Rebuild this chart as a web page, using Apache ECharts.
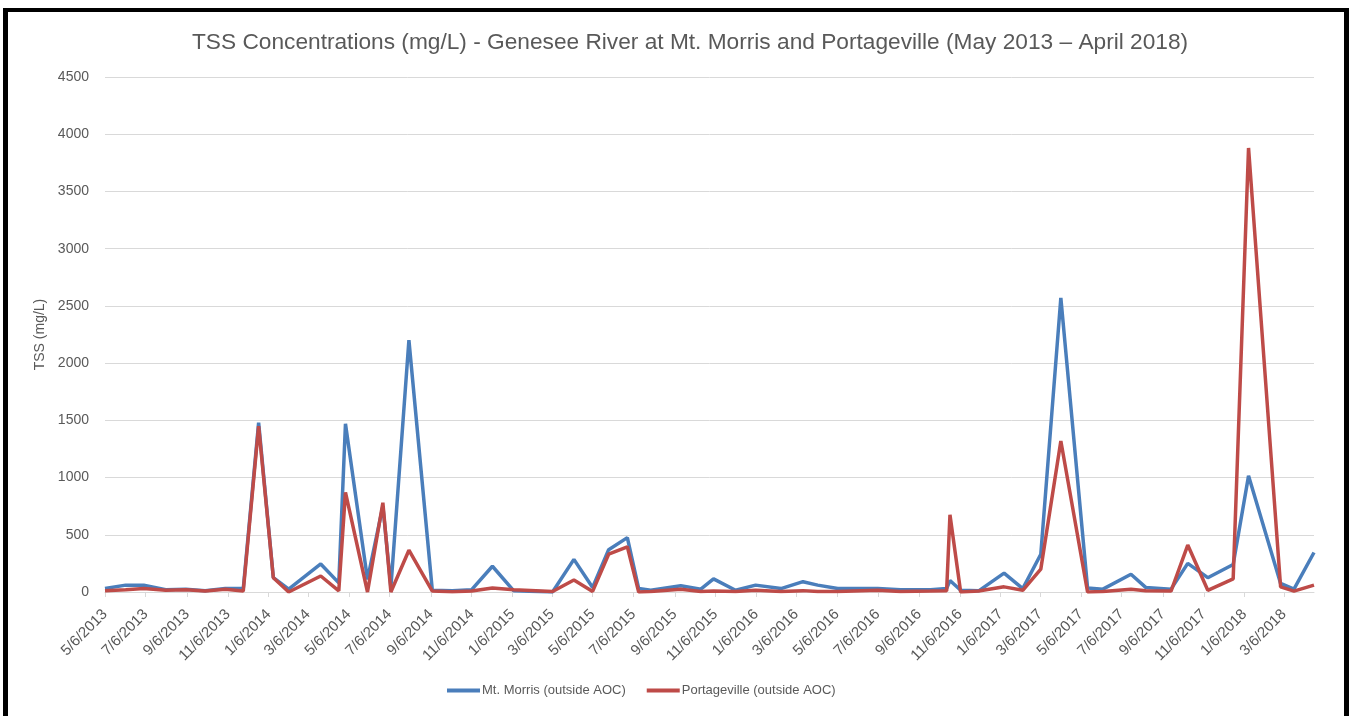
<!DOCTYPE html>
<html lang="en">
<head>
  <meta charset="UTF-8">
  <title>TSS Concentrations - Genesee River</title>
  <script src="https://cdn.jsdelivr.net/npm/echarts@6/dist/echarts.min.js"></script>
  <style>
    html, body { margin: 0; padding: 0; background: #fff; overflow: hidden; }
    #main { position: absolute; left: 0; top: 0; width: 1350px; height: 716px; }
    #frame {
      position: absolute; left: 3px; top: 8px; width: 1346px; height: 760px;
      border: 5px solid #000; border-top-width: 4px; box-sizing: border-box;
      pointer-events: none;
    }
  </style>
</head>
<body>
<div id="main"></div>
<div id="frame"></div>
<script>
  // sample dates
  var sampleDates = [
    '2013-05-06', '2013-06-06', '2013-07-03', '2013-08-05', '2013-09-04', '2013-10-03',
    '2013-11-02', '2013-11-29', '2013-12-22', '2014-01-13', '2014-02-05', '2014-03-25',
    '2014-04-21', '2014-05-01', '2014-06-03', '2014-06-26', '2014-07-08', '2014-08-04',
    '2014-09-08', '2014-10-08', '2014-11-06', '2014-12-07', '2015-01-08', '2015-03-07',
    '2015-04-08', '2015-05-06', '2015-05-30', '2015-06-27', '2015-07-14', '2015-08-01',
    '2015-09-15', '2015-10-15', '2015-11-03', '2015-12-06', '2016-01-05', '2016-02-12',
    '2016-03-16', '2016-04-07', '2016-05-07', '2016-07-06', '2016-08-09', '2016-09-23',
    '2016-10-17', '2016-10-22', '2016-11-07', '2016-12-04', '2017-01-11', '2017-02-08',
    '2017-03-07', '2017-04-06', '2017-05-16', '2017-06-08', '2017-07-20', '2017-08-11',
    '2017-09-18', '2017-10-13', '2017-11-12', '2017-12-20', '2018-01-12', '2018-03-01',
    '2018-03-21', '2018-04-20'
  ];

  // TSS mg/L, Mt. Morris
  var mtMorris = [
    30, 60, 60, 20, 25, 10, 30, 30, 1480, 125, 25, 245,
    80, 1470, 110, 750, 40, 2200, 15, 10, 20, 225, 10, 0,
    285, 40, 370, 475, 30, 15, 55, 25, 115, 15, 60, 30,
    90, 60, 30, 30, 20, 20, 30, 100, 15, 10, 165, 30,
    330, 2570, 35, 25, 155, 40, 25, 250, 125, 240, 1015, 75,
    25, 345
  ];

  // TSS mg/L, Portageville
  var portageville = [
    10, 20, 30, 15, 20, 8, 25, 8, 1450, 125, 0, 140,
    10, 870, 0, 780, 0, 365, 8, 3, 8, 35, 20, 5,
    105, 5, 330, 395, 0, 5, 25, 5, 8, 5, 15, 5,
    12, 5, 5, 15, 5, 8, 10, 675, 0, 8, 45, 15,
    200, 1320, 0, 5, 25, 10, 8, 410, 15, 115, 3880, 45,
    8, 60
  ];

  var tickLabels = [
    '5/6/2013', '7/6/2013', '9/6/2013', '11/6/2013', '1/6/2014', '3/6/2014',
    '5/6/2014', '7/6/2014', '9/6/2014', '11/6/2014', '1/6/2015', '3/6/2015',
    '5/6/2015', '7/6/2015', '9/6/2015', '11/6/2015', '1/6/2016', '3/6/2016',
    '5/6/2016', '7/6/2016', '9/6/2016', '11/6/2016', '1/6/2017', '3/6/2017',
    '5/6/2017', '7/6/2017', '9/6/2017', '11/6/2017', '1/6/2018', '3/6/2018'
  ];

  function isoTs(s) {
    var p = s.split('-');
    return Date.UTC(+p[0], +p[1] - 1, +p[2]);
  }
  function mdyTs(s) {
    var p = s.split('/');
    return Date.UTC(+p[2], +p[0] - 1, +p[1]);
  }
  function fmt(v) {
    var d = new Date(v);
    return (d.getUTCMonth() + 1) + '/' + d.getUTCDate() + '/' + d.getUTCFullYear();
  }

  var tickValues = tickLabels.map(mdyTs);
  function pairs(vals) {
    return sampleDates.map(function (s, i) { return [isoTs(s), vals[i]]; });
  }

  var fontFam = '"Liberation Sans", Arial, sans-serif';
  var txt = '#595959';

  var chartDom = document.getElementById('main');
  var myChart = echarts.init(chartDom);
  var option;

  option = {
    animation: false,
    backgroundColor: '#fff',
    title: {
      text: 'TSS Concentrations (mg/L) - Genesee River at Mt. Morris and Portageville (May 2013 \u2013 April 2018)',
      left: 187,
      top: 26,
      textStyle: { fontFamily: fontFam, fontSize: 22.7, fontWeight: 'normal', color: txt }
    },
    legend: {
      bottom: 14,
      left: 442,
      icon: 'rect',
      itemWidth: 33,
      itemHeight: 4,
      itemGap: 21,
      textStyle: { fontFamily: fontFam, fontSize: 13, color: txt, padding: [0, 0, 0, -3] },
      data: ['Mt. Morris (outside AOC)', 'Portageville (outside AOC)']
    },
    grid: { left: 105, right: 36, top: 77, bottom: 124 },
    xAxis: {
      type: 'value',
      min: isoTs(sampleDates[0]),
      max: isoTs(sampleDates[sampleDates.length - 1]),
      splitLine: { show: false },
      axisLine: { lineStyle: { color: '#D9D9D9', width: 1 } },
      axisTick: { show: true, length: 5, customValues: tickValues, lineStyle: { color: '#D9D9D9' } },
      axisLabel: {
        customValues: tickValues,
        rotate: 45,
        margin: 20,
        formatter: fmt,
        fontFamily: fontFam, fontSize: 15, color: txt
      }
    },
    yAxis: {
      type: 'value',
      min: 0,
      max: 4500,
      interval: 500,
      name: 'TSS (mg/L)',
      nameLocation: 'middle',
      nameGap: 55,
      nameTextStyle: { fontFamily: fontFam, fontSize: 14, color: txt },
      axisLine: { show: false },
      axisTick: { show: false },
      axisLabel: {
        margin: 16,
        formatter: function (v) { return String(v); },
        fontFamily: fontFam, fontSize: 14, color: txt
      },
      splitLine: { lineStyle: { color: '#D9D9D9', width: 1 } }
    },
    series: [
      {
        name: 'Mt. Morris (outside AOC)',
        type: 'line',
        symbol: 'none',
        color: '#4A7EBB',
        lineStyle: { width: 3.5, color: '#4A7EBB' },
        data: pairs(mtMorris)
      },
      {
        name: 'Portageville (outside AOC)',
        type: 'line',
        symbol: 'none',
        color: '#BE4B48',
        lineStyle: { width: 3.5, color: '#BE4B48' },
        data: pairs(portageville)
      }
    ]
  };

  option && myChart.setOption(option);
</script>
</body>
</html>
